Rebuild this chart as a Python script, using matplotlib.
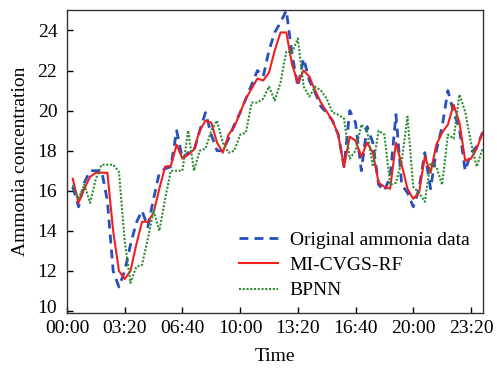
import numpy as np
import matplotlib.pyplot as plt
from matplotlib.transforms import ScaledTranslation

# sampling every 20 minutes
minutes = np.arange(20, 1441, 20)

original = [16.2, 15.2, 16.4, 17.0, 17.0, 17.0, 15.5, 12.0, 11.2, 12.0,
            13.3, 14.4, 15.0, 14.2, 15.6, 16.9, 17.1, 17.2, 19.0, 17.6,
            17.9, 18.0, 19.0, 19.9, 18.8, 18.0, 18.0, 18.6, 19.3, 19.9,
            20.6, 21.3, 22.0, 21.7, 23.0, 23.9, 24.4, 25.0, 22.8, 21.2,
            22.6, 21.5, 20.9, 20.2, 19.9, 19.5, 18.8, 17.2, 20.0, 19.4,
            17.0, 19.2, 18.4, 16.3, 16.0, 16.7, 19.8, 16.3, 15.9, 15.2,
            16.1, 17.9, 16.1, 18.0, 19.2, 21.0, 19.9, 19.1, 17.0, 17.9,
            18.2, 18.9]

mi_cvgs_rf = [16.6, 15.4, 16.1, 16.7, 16.9, 16.9, 16.9, 14.0, 12.0, 11.6,
              12.0, 13.3, 14.45, 14.45, 14.9, 16.1, 17.2, 17.25, 18.3, 17.6,
              17.8, 18.05, 19.0, 19.5, 19.4, 18.4, 17.9, 18.8, 19.2, 19.9,
              20.6, 21.1, 21.6, 21.5, 21.9, 23.0, 23.9, 23.9, 22.3, 21.4,
              22.0, 21.7, 21.0, 20.4, 19.95, 19.5, 18.8, 17.2, 18.7, 18.5,
              17.7, 18.4, 17.9, 16.4, 16.2, 16.1, 18.4, 17.3, 16.1, 15.6,
              15.9, 17.7, 16.9, 18.3, 18.9, 19.3, 20.3, 19.4, 17.5, 17.6,
              18.1, 18.9]

bpnn = [16.3, 15.6, 16.3, 15.4, 16.6, 17.3, 17.3, 17.3, 16.95, 13.5,
        11.4, 12.2, 12.3, 13.6, 15.0, 14.0, 15.6, 17.0, 17.0, 17.0,
        19.0, 17.0, 18.0, 18.1, 19.0, 19.5, 18.4, 17.9, 18.0, 18.8,
        18.9, 20.4, 20.4, 20.6, 21.2, 20.5, 21.4, 22.95, 22.9, 23.6,
        21.2, 20.7, 21.2, 21.0, 20.6, 19.9, 19.8, 19.6, 17.6, 18.0,
        19.3, 19.0, 17.2, 19.0, 18.8, 16.3, 16.4, 17.5, 19.7, 16.2,
        15.9, 15.45, 17.4, 17.2, 16.3, 18.8, 18.6, 20.8, 19.95, 18.4,
        17.2, 18.1]

tick_minutes = np.arange(0, 1401, 200)
tick_labels = [f"{m // 60:02d}:{m % 60:02d}" for m in tick_minutes]

plt.rcParams['font.family'] = ['Liberation Serif', 'DejaVu Serif']
plt.rcParams['font.size'] = 14

fig = plt.figure(figsize=(4.97, 3.72), dpi=100)
ax = fig.add_axes([0.1348, 0.1586, 0.8372, 0.8134])

ax.plot(minutes, original, color='#2850b8', linestyle=(0, (3.2, 2.2)), linewidth=2.0,
        label='Original ammonia data')
ax.plot(minutes, mi_cvgs_rf, color='#f02020', linewidth=1.5, label='MI-CVGS-RF')
ax.plot(minutes, bpnn, color='#2e8b34', linestyle=(0, (1, 0.8)), linewidth=1.5,
        label='BPNN')

ax.set_xlim(0, 1442)
ax.set_ylim(9.9, 25)
ax.set_xticks(tick_minutes)
ax.set_xticklabels(tick_labels)
ax.set_yticks(np.arange(10, 25, 2))
ax.tick_params(direction='in', length=4, width=1)
ax.tick_params(axis='x', pad=5)
ax.tick_params(axis='y', pad=7)
for s in ax.spines.values():
    s.set_linewidth(1.0)
    s.set_color('#333333')

# nudge the lowest y label up a little so it clears "00:00"
fig.canvas.draw()
lbl = ax.get_yticklabels()[0]
lbl.set_transform(lbl.get_transform() + ScaledTranslation(0, 3 / 72, fig.dpi_scale_trans))

ax.set_xlabel('Time', labelpad=8)
ax.set_ylabel('Ammonia concentration', labelpad=6)

ax.legend(loc='lower right', frameon=False, handlelength=2.0, borderaxespad=0.3,
          labelspacing=0.4, handletextpad=0.6, bbox_to_anchor=(1.0, 0.0))

fig.savefig('out.png', dpi=100)
